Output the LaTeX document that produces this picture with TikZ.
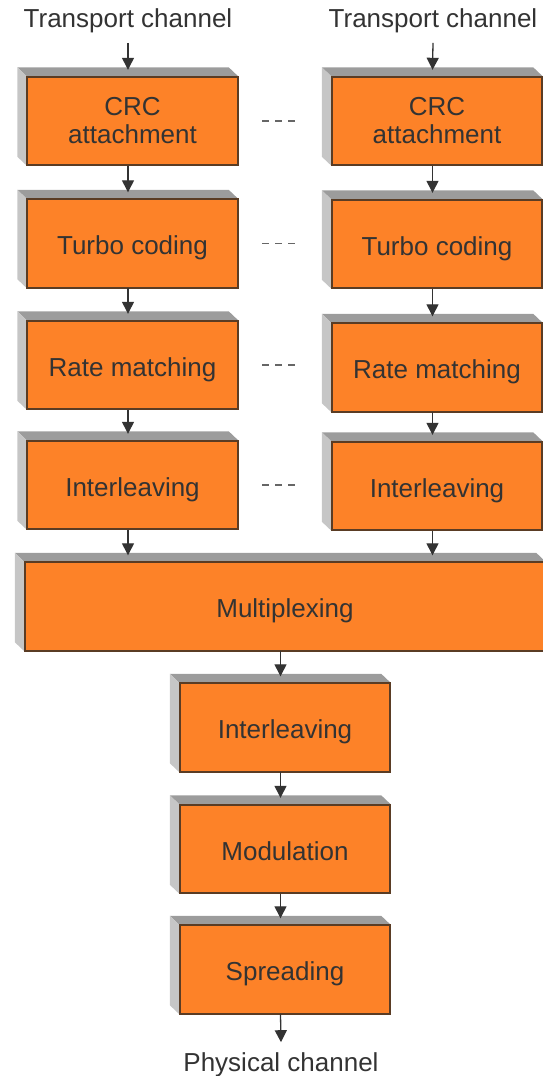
\documentclass[tikz,border=0pt]{standalone}
\usepackage{fontspec}
\setmainfont{Liberation Sans}
\usetikzlibrary{arrows.meta,calc}
\definecolor{boxfill}{HTML}{FD8228}
\definecolor{boxedge}{HTML}{5A3C24}
\definecolor{topface}{HTML}{9C9C9C}
\definecolor{sideface}{HTML}{C6C6C6}
\definecolor{ink}{HTML}{333333}
\tikzset{
  twoline/.style={draw=boxedge, line width=1.4pt, fill=boxfill, text=ink,
    minimum width=210pt, minimum height=88pt, inner sep=0pt, align=center,
    font=\fontsize{26}{28}\selectfont},
  stage/.style={twoline, text height=22pt, text depth=0pt},
  wide/.style={stage, minimum width=520pt},
  label/.style={text=ink, font=\fontsize{26}{28}\selectfont, inner sep=0pt},
  flow/.style={draw=ink, line width=1.3pt, -{Triangle[length=12pt,width=12pt]}},
  etc/.style={draw=gray!80!black, line width=1.5pt, dash pattern=on 7pt off 6pt}
}
\begin{document}
\begin{tikzpicture}[x=1pt,y=-1pt]
\useasboundingbox (0,0) rectangle (543,1076);

% channel labels
\node[label] (tin1) at (128,20.5) {Transport channel};
\node[label] (tin2) at (433,20.5) {Transport channel};
\node[label] (pout) at (281,1064.5) {Physical channel};

% left chain
\node[twoline] (crc1) at (132.5,121) {CRC\\attachment};
\node[stage] (tc1)  at (132.5,243.5) {Turbo coding};
\node[stage] (rm1)  at (132.5,365)   {Rate matching};
\node[stage] (il1)  at (132.5,485)   {Interleaving};

% right chain
\node[twoline] (crc2) at (437,121) {CRC\\attachment};
\node[stage] (tc2)  at (437,244)   {Turbo coding};
\node[stage] (rm2)  at (437,367.5) {Rate matching};
\node[stage] (il2)  at (437,486)   {Interleaving};

% common chain
\node[wide]  (mux) at (285,606.5) {Multiplexing};
\node[stage] (il)  at (285,727.5) {Interleaving};
\node[stage] (mod) at (285,849)   {Modulation};
\node[stage] (spr) at (285,969.5) {Spreading};

% bevelled top and left faces of every block
\foreach \n in {crc1,tc1,rm1,il1,crc2,tc2,rm2,il2,mux,il,mod,spr}{
  \fill[topface] (\n.north west) -- ++(-9.5,-9) -- ($(\n.north east)+(-9.5,-9)$) -- (\n.north east) -- cycle;
  \fill[sideface] (\n.north west) -- ++(-9.5,-9) -- ($(\n.south west)+(-9.5,-9)$) -- (\n.south west) -- cycle;
  \draw[boxedge, line width=1.4pt] (\n.north west) rectangle (\n.south east);
}

% connectors
\draw[flow] ([yshift=-10pt]tin1.south) -- ([xshift=-4.5pt,yshift=6.5pt]crc1.north);
\draw[flow] ([yshift=-10pt]tin2.south) -- ([xshift=-4.5pt,yshift=6.5pt]crc2.north);
\foreach \a/\b in {crc1/tc1,tc1/rm1,rm1/il1,crc2/tc2,tc2/rm2,rm2/il2,il/mod,mod/spr}
  \draw[flow] ([xshift=-4.5pt]\a.south) -- ([xshift=-4.5pt,yshift=6.5pt]\b.north);
\draw[flow] ([xshift=-4.5pt]il1.south) -- ([xshift=-4.5pt,yshift=6.5pt]il1.south |- mux.north);
\draw[flow] ([xshift=-4.5pt]il2.south) -- ([xshift=-4.5pt,yshift=6.5pt]il2.south |- mux.north);
\draw[flow] ([xshift=-4.5pt]mux.south -| il.north) -- ([xshift=-4.5pt,yshift=6.5pt]il.north);
\draw[flow] ([xshift=-4.5pt]spr.south) -- ([yshift=10pt]pout.north);

% ellipses between the parallel chains
\foreach \a/\b in {crc1/crc2,tc1/tc2,rm1/rm2,il1/il2}
  \draw[etc] ([xshift=24pt]\a.east) -- ++(33,0);
\end{tikzpicture}
\end{document}
